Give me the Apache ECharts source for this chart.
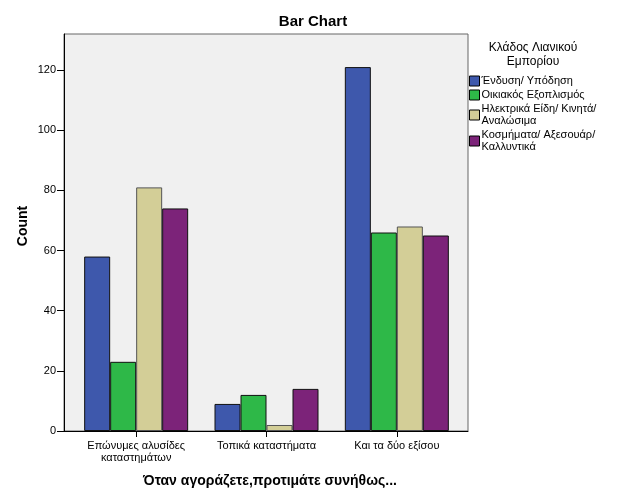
<!DOCTYPE html>
<html>
<head>
<meta charset="utf-8">
<script src="https://cdn.jsdelivr.net/npm/echarts@6/dist/echarts.min.js"></script>
<style>html,body{margin:0;padding:0;background:#fff}#c{width:626px;height:501px}</style>
</head>
<body>
<div id="c"></div>
<script>
const categories = ['Επώνυμες αλυσίδες\nκαταστημάτων', 'Τοπικά καταστήματα', 'Και τα δύο εξίσου'];
const seriesNames = ['Ένδυση/ Υπόδηση', 'Οικιακός Εξοπλισμός', 'Ηλεκτρικά Είδη/ Κινητά/\nΑναλώσιμα', 'Κοσμήματα/ Αξεσουάρ/\nΚαλλυντικά'];
const endysi = [58, 9, 121];
const oikiakos = [23, 12, 66];
const ilektrika = [81, 2, 68];
const kosmimata = [74, 14, 65];
const colors = ['#3e58ac', '#2eb848', '#d3ce97', '#7c2379'];
const borders = ['#111111', '#111111', '#555555', '#111111'];
const yMax = 132;
const values = [endysi, oikiakos, ilektrika, kosmimata];
const font = 'Liberation Sans, Arial, sans-serif';

const chart = echarts.init(document.getElementById('c'), null, {renderer: 'canvas'});
chart.setOption({
  animation: false,
  textStyle: {fontFamily: font},
  graphic: [
    {type: 'text', x: 313, y: 22, style: {text: 'Bar Chart', font: 'bold 15px ' + font, fill: '#000', align: 'center', verticalAlign: 'middle'}},
    {type: 'text', x: 533, y: 41, style: {text: 'Κλάδος Λιανικού\nΕμπορίου', font: '12px ' + font, fill: '#000', align: 'center', lineHeight: 14}},
    {type: 'text', x: 23, y: 226, rotation: Math.PI / 2, style: {text: 'Count', font: 'bold 14px ' + font, fill: '#000', align: 'center', verticalAlign: 'middle'}},
    {type: 'text', x: 270, y: 481, style: {text: 'Όταν αγοράζετε,προτιμάτε συνήθως...', font: 'bold 14px ' + font, fill: '#000', align: 'center', verticalAlign: 'middle'}}
  ],
  legend: {
    orient: 'vertical', left: 469, top: 75, itemWidth: 10, itemHeight: 10, itemGap: 2,
    icon: 'rect', padding: 0,
    textStyle: {fontFamily: font, fontSize: 11, color: '#000', lineHeight: 12, padding: [0, 0, 0, -3]},
    data: seriesNames.map(n => ({name: n, itemStyle: {borderColor: '#000', borderWidth: 1}}))
  },
  grid: [
    {left: 64, right: 158, top: 34, bottom: 70, show: true, backgroundColor: '#f0f0f0', borderColor: '#666', borderWidth: 1},
    {left: 71, right: 164, top: 34, bottom: 70}
  ],
  xAxis: [
    {gridIndex: 0, type: 'value', min: 0, max: 1, axisLine: {show: true, onZero: false, lineStyle: {color: '#000', width: 1}}, axisTick: {show: false}, axisLabel: {show: false}, splitLine: {show: false}},
    {gridIndex: 1, type: 'category', data: categories, axisLine: {show: false}, splitLine: {show: false},
     axisTick: {show: true, alignWithLabel: true, length: 6, lineStyle: {color: '#000'}},
     axisLabel: {fontFamily: font, fontSize: 11, color: '#000', lineHeight: 12, margin: 9}}
  ],
  yAxis: [
    {gridIndex: 0, type: 'value', min: 0, max: yMax, interval: 20, splitLine: {show: false},
     axisLine: {show: true, lineStyle: {color: '#000'}}, axisTick: {show: true, length: 7, lineStyle: {color: '#000'}},
     axisLabel: {fontFamily: font, fontSize: 11, color: '#000', margin: 8, showMaxLabel: false}},
    {gridIndex: 1, type: 'value', min: 0, max: yMax, show: false}
  ],
  series: seriesNames.map((n, i) => ({
    name: n, type: 'bar', xAxisIndex: 1, yAxisIndex: 1, data: values[i],
    barWidth: 26, barGap: '0%',
    itemStyle: {color: colors[i], borderColor: borders[i], borderWidth: 1}
  }))
});
</script>
</body>
</html>
